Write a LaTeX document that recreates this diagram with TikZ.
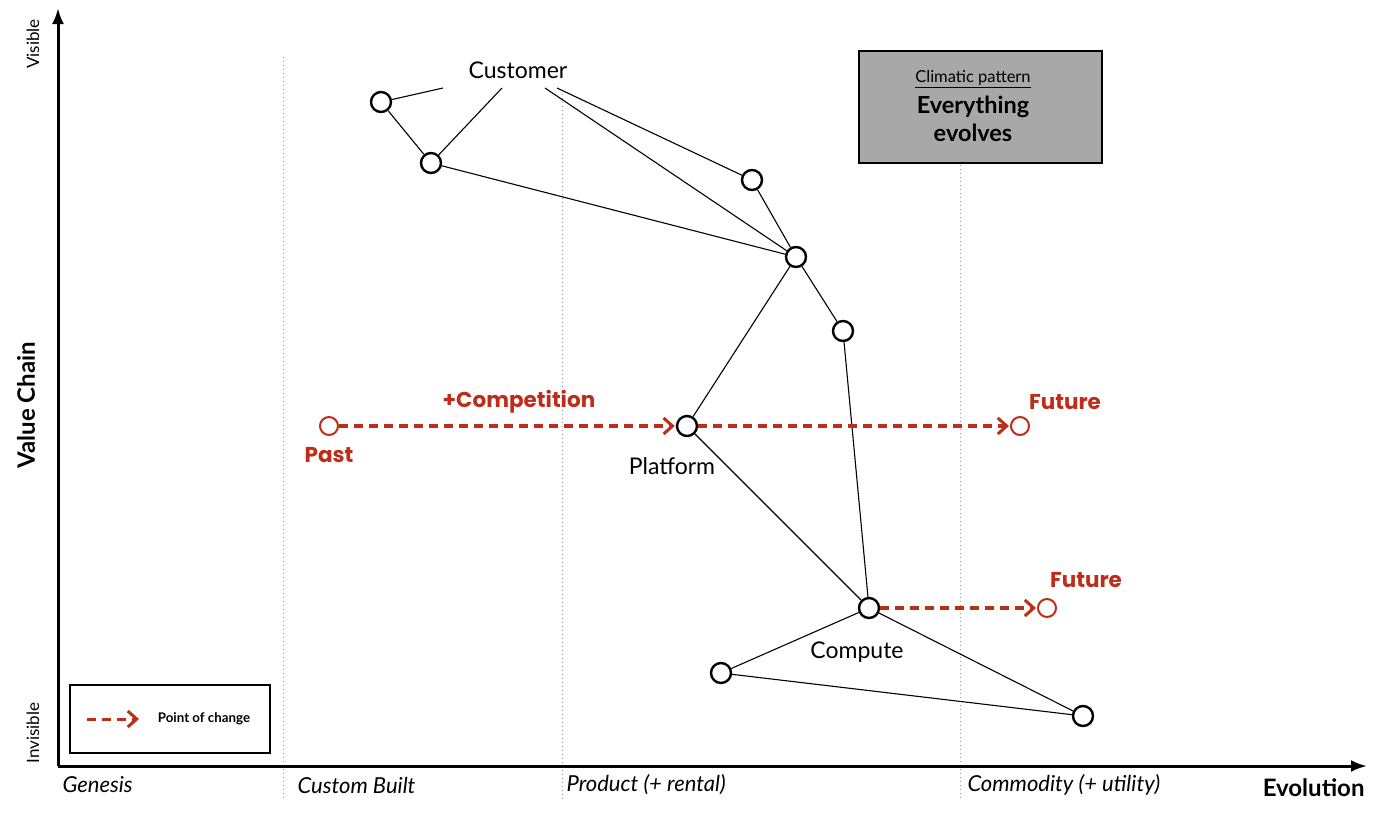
\documentclass[tikz,border=0pt]{standalone}
\usepackage{fontspec}
\setmainfont{Lato}
\newfontfamily\handfont{Poppins}
\usetikzlibrary{arrows.meta}
\definecolor{mapRed}{RGB}{190,45,25}
\definecolor{mapGray}{RGB}{168,168,168}
\definecolor{gridGray}{RGB}{150,150,150}

\begin{document}
\begin{tikzpicture}[x=1pt, y=-1pt]
    % Styles
    \tikzstyle{comp} = [circle, draw=black, line width=2.4pt, fill=white, minimum size=20pt, inner sep=0pt]
    \tikzstyle{ghost} = [circle, draw=mapRed, line width=2pt, fill=white, minimum size=18pt, inner sep=0pt]
    \tikzstyle{link} = [black, line width=1.1pt]
    \tikzstyle{change} = [mapRed, line width=3.5pt, dash pattern=on 9pt off 6pt, -{Straight Barb[length=9pt, width=16pt, line width=3pt]}, shorten >=1pt]
    \tikzstyle{stage} = [gridGray, line width=0.9pt, dash pattern=on 1pt off 3pt]
    \tikzstyle{axisline} = [black, line width=3pt, -{Latex[length=16pt, width=12pt]}]
    \tikzstyle{redlabel} = [text=mapRed, font=\handfont\bfseries\fontsize{21.5}{24}\selectfont]
    \tikzstyle{phase} = [anchor=west, font=\itshape\fontsize{22}{25}\selectfont]
    \tikzstyle{complabel} = [font=\fontsize{23}{26}\selectfont]

    \useasboundingbox (0,0) rectangle (1400,812);

    % Stage separators
    \draw[stage] (283,57) -- (283,800);
    \draw[stage] (562,90) -- (562,800);
    \draw[stage] (960,165) -- (960,800);

    % Axes
    \coordinate (origin) at (58,766);
    \coordinate (top) at (58,8);
    \coordinate (right) at (1367,766);
    \draw[axisline] (origin) -- (top);
    \draw[axisline] (origin) -- (right);

    % Axis labels
    \node[rotate=90, font=\fontsize{17}{19}\selectfont] (vis) at (33,44) {Visible};
    \node[rotate=90, font=\fontsize{17}{19}\selectfont] (invis) at (33,733) {Invisible};
    \node[rotate=90, font=\bfseries\fontsize{24}{28}\selectfont] (vchain) at (26,405) {Value Chain};
    \node[anchor=east, font=\bfseries\fontsize{24}{28}\selectfont] (evo) at (1368,788) {Evolution};
    \node[phase] (gen) at (59,785) {Genesis};
    \node[phase] (cust) at (294,785) {Custom Built};
    \node[phase] (prod) at (563,785) {Product (+ rental)};
    \node[phase] (comm) at (964,785) {Commodity (+ utility)};

    % Climatic pattern box
    \node[draw=black, line width=1.5pt, fill=mapGray, minimum width=243pt, minimum height=112pt] (pattern) at (980.5,107) {};
    \node[font=\fontsize{16.5}{18}\selectfont] (ptitle) at (973,79) {\underline{Climatic pattern}};
    \node[font=\bfseries\fontsize{23.5}{28}\selectfont, align=center] (ptext) at (973,119) {Everything\\evolves};

    % Legend
    \node[draw=black, line width=1.3pt, minimum width=200pt, minimum height=68pt] (legend) at (170,719) {};
    \coordinate (lstart) at (87,719);
    \coordinate (lend) at (140,719);
    \draw[change, line width=3pt] (lstart) -- (lend);
    \node[font=\bfseries\fontsize{13.3}{15}\selectfont] (ltext) at (204,719) {Point of change};

    % Components
    \node[complabel] (customer) at (518,70) {Customer};
    \coordinate (c1) at (443,88);
    \coordinate (c2) at (502,88);
    \coordinate (c3) at (545,88);
    \coordinate (c4) at (557,88);
    \node[comp] (a) at (381,102) {};
    \node[comp] (b) at (431,163) {};
    \node[comp] (c) at (752,180) {};
    \node[comp] (d) at (796,257) {};
    \node[comp] (e) at (843,331) {};
    \node[comp] (platform) at (687,426) {};
    \node[comp] (compute) at (869,608) {};
    \node[comp] (f) at (721,673) {};
    \node[comp] (g) at (1083,716) {};
    \node[complabel] (plabel) at (672,466) {Platform};
    \node[complabel] (clabel) at (857,652) {Compute};

    % Links
    \draw[link] (c1) -- (a);
    \draw[link] (c2) -- (b);
    \draw[link] (c3) -- (d);
    \draw[link] (c4) -- (c);
    \draw[link] (a) -- (b);
    \draw[link] (b) -- (d);
    \draw[link] (c) -- (d);
    \draw[link] (d) -- (e);
    \draw[link] (d) -- (platform);
    \draw[link] (e) -- (compute);
    \draw[link] (platform) -- (compute);
    \draw[link] (compute) -- (f);
    \draw[link] (compute) -- (g);
    \draw[link] (f) -- (g);

    % Evolution
    \node[ghost] (past) at (329,426) {};
    \node[ghost] (future1) at (1020,426) {};
    \node[ghost] (future2) at (1047,608) {};
    \draw[change] (past) -- (platform);
    \draw[change] (platform) -- (future1);
    \draw[change] (compute) -- (future2);
    \node[redlabel] (pastlabel) at (329,455) {Past};
    \node[redlabel] (competlabel) at (519,402) {+Competition};
    \node[redlabel] (fut1label) at (1065,402) {Future};
    \node[redlabel] (fut2label) at (1086,580) {Future};
\end{tikzpicture}
\end{document}
